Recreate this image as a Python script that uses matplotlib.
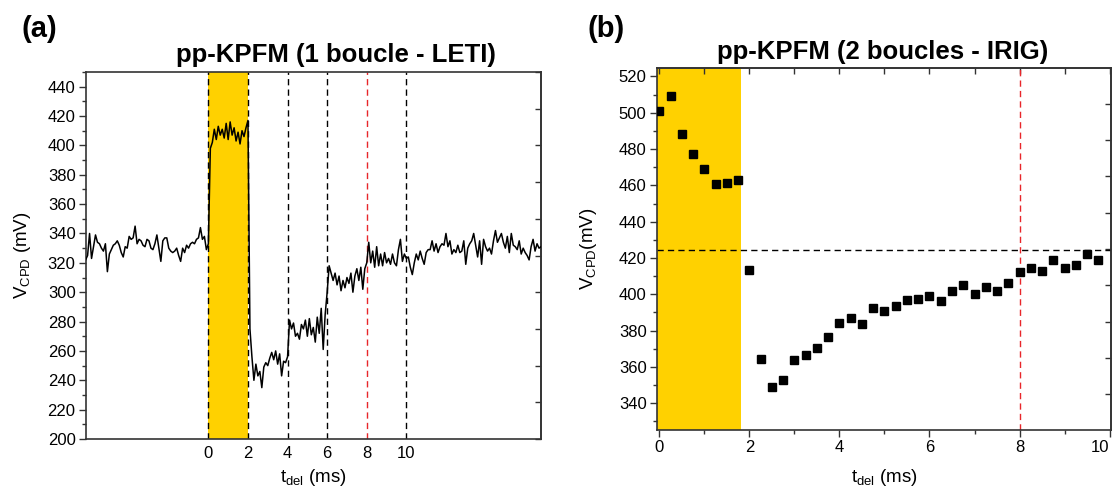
import numpy as np
import matplotlib
matplotlib.use("Agg")
import matplotlib.pyplot as plt
from matplotlib.ticker import MultipleLocator, FixedLocator, NullFormatter

plt.rcParams['font.family'] = ['Liberation Sans', 'DejaVu Sans']
plt.rcParams['mathtext.fontset'] = 'custom'
plt.rcParams['mathtext.rm'] = 'Liberation Sans'
plt.rcParams['mathtext.it'] = 'Liberation Sans:italic'
plt.rcParams['mathtext.bf'] = 'Liberation Sans:bold'

# ---------------- Data: panel (a) ----------------
a_title = "pp-KPFM (1 boucle - LETI)"
a_t_start = -6.2       # ms
a_t_step = 0.1         # ms
a_vcpd = [
    # -6.2 .. 0.0
    322, 325, 340, 323, 331, 339, 334, 333, 330, 328, 333, 314, 326, 329, 332, 333,
    335, 332, 327, 324, 331, 330, 338, 336, 337, 345, 333, 336, 335, 332, 331, 336,
    335, 330, 329, 333, 339, 330, 321, 335, 337, 337, 330, 328, 327, 328, 330, 325,
    321, 330, 327, 332, 330, 333, 334, 333, 336, 337, 344, 336, 338, 329, 333,
    # 0.1 .. 2.0
    398, 402, 411, 404, 413, 407, 411, 405, 415, 404, 416, 407, 412, 403, 409, 401,
    410, 406, 412, 417,
    # 2.1 .. 4.0
    275, 256, 240, 251, 243, 246, 235, 249, 252, 250, 255, 259, 254, 260, 251, 258,
    243, 253, 252, 256,
    # 4.1 .. 5.9
    281, 275, 279, 270, 272, 268, 278, 275, 281, 270, 282, 271, 276, 266, 283, 272,
    289, 261, 285,
    # 6.0 .. 10.0
    300, 318, 313, 308, 313, 305, 311, 301, 308, 303, 310, 306, 313, 300, 311, 316,
    308, 317, 302, 316, 320, 334, 320, 328, 317, 331, 318, 326, 318, 327, 320, 323,
    319, 326, 320, 318, 329, 336, 321, 326, 323,
    # 10.1 .. 16.8
    324, 317, 312, 320, 326, 322, 328, 323, 319, 327, 329, 329, 335, 328, 333, 327,
    331, 333, 332, 340, 331, 335, 326, 329, 327, 332, 327, 328, 335, 319, 330, 333,
    335, 340, 332, 324, 335, 319, 336, 331, 328, 330, 326, 335, 342, 334, 337, 340,
    334, 330, 338, 327, 340, 332, 331, 329, 335, 326, 330, 327, 325, 322, 331, 336,
    328, 333, 330, 331,
]
a_xticks = [0, 2, 4, 6, 8, 10]
a_black_lines = [0, 2, 4, 6, 10]
a_red_lines = [8]
a_pulse = (0, 2)

# ---------------- Data: panel (b) ----------------
b_title = "pp-KPFM (2 boucles - IRIG)"
b_tdel = [0.0, 0.25, 0.5, 0.75, 1.0, 1.25, 1.5, 1.75, 2.0, 2.25, 2.5, 2.75, 3.0,
          3.25, 3.5, 3.75, 4.0, 4.25, 4.5, 4.75, 5.0, 5.25, 5.5, 5.75, 6.0, 6.25,
          6.5, 6.75, 7.0, 7.25, 7.5, 7.75, 8.0, 8.25, 8.5, 8.75, 9.0, 9.25, 9.5, 9.75]
b_vcpd = [501.0, 509.1, 488.4, 477.3, 468.8, 460.8, 461.1, 463.0, 413.2, 364.4,
          349.2, 352.7, 364.1, 366.6, 370.3, 376.4, 384.3, 387.1, 383.4, 392.6,
          390.7, 393.3, 396.6, 397.2, 399.0, 396.3, 402.0, 405.3, 400.1, 403.8,
          402.0, 406.2, 412.1, 414.3, 412.6, 419.1, 414.3, 416.0, 422.2, 418.7]
b_xticks = [0, 2, 4, 6, 8, 10]
b_hline = 424.2
b_red_lines = [8]
b_pulse_end = 1.82

YELLOW = '#FFD100'
RED = '#E8262A'
SPINE = '#333333'
TICK_FS = 12
LABEL_FS = 13.5
TITLE_FS = 18.5
LETTER_FS = 21

a_t = a_t_start + a_t_step * np.arange(len(a_vcpd))

fig = plt.figure(figsize=(11.15, 4.91), dpi=100)

# ---------------- Panel (a) ----------------
axa = fig.add_axes([86/1115, 1-439/491, (541-86)/1115, (439-72)/491])
axa.set_xlim(-6.18, 16.8)
axa.set_ylim(200, 450)
axa.axvspan(a_pulse[0], a_pulse[1], color=YELLOW, lw=0, zorder=0)
for xv in a_black_lines:
    axa.axvline(xv, color='black', lw=1.0, ls=(0, (4.5, 3)), zorder=1)
for xv in a_red_lines:
    axa.axvline(xv, color=RED, lw=1.0, ls=(0, (4.5, 3)), zorder=1)
axa.plot(a_t, a_vcpd, color='black', lw=1.1, zorder=3)
axa.set_xticks(a_xticks)
axa.tick_params(axis='x', length=0, pad=5, labelsize=TICK_FS)
axa.yaxis.set_major_locator(MultipleLocator(20))
axa.yaxis.set_minor_locator(MultipleLocator(10))
axa.tick_params(axis='y', which='major', direction='out', length=5, width=1, labelsize=TICK_FS, color=SPINE, pad=2.5)
axa.tick_params(axis='y', which='minor', direction='out', length=3, width=1, color=SPINE)
sra = axa.secondary_yaxis('right')
sra.yaxis.set_major_locator(FixedLocator(np.arange(200, 451, 25)))
sra.yaxis.set_major_formatter(NullFormatter())
sra.tick_params(direction='in', length=4, width=1, color=SPINE)
for sp in list(axa.spines.values()) + list(sra.spines.values()):
    sp.set_color(SPINE)
    sp.set_linewidth(1.2)
axa.set_ylabel(r'V$_{\mathrm{CPD}}$ (mV)', fontsize=LABEL_FS)
axa.yaxis.set_label_coords((33-86)/455, 0.5)
axa.set_xlabel(r't$_{\mathrm{del}}$ (ms)', fontsize=LABEL_FS)
axa.xaxis.set_label_coords(0.5, -(478-439)/367)
axa.xaxis.label.set_va('center')
fig.text(336/1115, 1-55/491, a_title, fontsize=TITLE_FS, fontweight='bold', ha='center', va='center')
fig.text(39/1115, 1-29/491, '(a)', fontsize=LETTER_FS, fontweight='bold', ha='center', va='center')

# ---------------- Panel (b) ----------------
axb = fig.add_axes([657/1115, 1-430/491, (1111-657)/1115, (430-68)/491])
axb.set_xlim(-0.05, 10.03)
axb.set_ylim(325.3, 524.6)
axb.axvspan(-0.05, b_pulse_end, color=YELLOW, lw=0, zorder=0)
axb.axhline(b_hline, color='black', lw=1.0, ls=(0, (4.5, 3)), zorder=1)
for xv in b_red_lines:
    axb.axvline(xv, color=RED, lw=1.0, ls=(0, (4.5, 3)), zorder=1)
axb.plot(b_tdel, b_vcpd, ls='none', marker='s', ms=5.3, color='black', zorder=3)
axb.xaxis.set_major_locator(FixedLocator(b_xticks))
axb.xaxis.set_minor_locator(MultipleLocator(1))
axb.yaxis.set_major_locator(MultipleLocator(20))
axb.yaxis.set_minor_locator(MultipleLocator(10))
axb.tick_params(which='major', direction='out', length=5, width=1, labelsize=TICK_FS, color=SPINE, pad=2.5)
axb.tick_params(which='minor', direction='out', length=3, width=1, color=SPINE)
stb = axb.secondary_xaxis('top')
stb.xaxis.set_major_locator(FixedLocator(np.arange(0, 11, 1)))
stb.xaxis.set_major_formatter(NullFormatter())
stb.tick_params(direction='in', length=4, width=1, color=SPINE)
srb = axb.secondary_yaxis('right')
srb.yaxis.set_major_locator(FixedLocator(np.arange(345, 521, 20)))
srb.yaxis.set_major_formatter(NullFormatter())
srb.tick_params(direction='in', length=4, width=1, color=SPINE)
for sp in list(axb.spines.values()) + list(stb.spines.values()) + list(srb.spines.values()):
    sp.set_color(SPINE)
    sp.set_linewidth(1.2)
axb.set_ylabel(r'V$_{\mathrm{CPD}}$(mV)', fontsize=LABEL_FS)
axb.yaxis.set_label_coords((599-657)/454, 0.5)
axb.set_xlabel(r't$_{\mathrm{del}}$ (ms)', fontsize=LABEL_FS)
axb.xaxis.set_label_coords(0.5, -(478-430)/362)
axb.xaxis.label.set_va('center')
fig.text(883/1115, 1-52/491, b_title, fontsize=TITLE_FS, fontweight='bold', ha='center', va='center')
fig.text(606/1115, 1-29/491, '(b)', fontsize=LETTER_FS, fontweight='bold', ha='center', va='center')

# keep the last x tick label of (b) inside the canvas
fig.canvas.draw()
axb.xaxis.get_major_ticks()[-1].label1.set_horizontalalignment('right')

fig.savefig('out.png', dpi=100)
